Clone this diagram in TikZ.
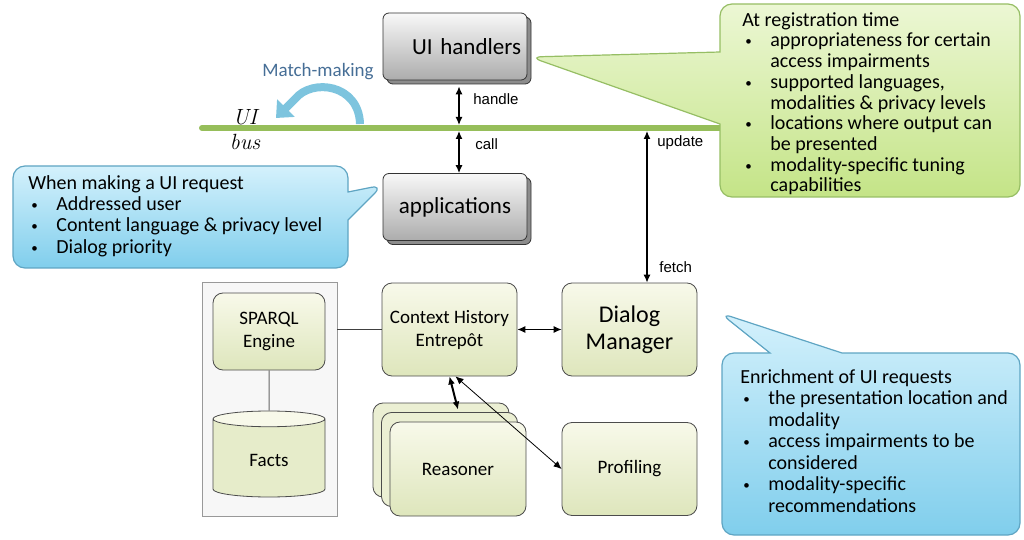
\documentclass[tikz,border=0pt]{standalone}
\usepackage{fontspec}
\newfontfamily\calfont{Carlito}
\newfontfamily\arialfont{Liberation Sans}
\usetikzlibrary{shapes.callouts,shapes.geometric,shadows,arrows.meta}

\definecolor{busgreen}{RGB}{150,190,90}
\definecolor{regtop}{RGB}{236,247,212}
\definecolor{regbot}{RGB}{196,228,135}
\definecolor{regline}{RGB}{150,190,100}
\definecolor{reqtop}{RGB}{212,241,252}
\definecolor{reqbot}{RGB}{128,206,236}
\definecolor{reqline}{RGB}{95,165,195}
\definecolor{unittop}{RGB}{248,248,248}
\definecolor{unitbot}{RGB}{172,172,172}
\definecolor{comptop}{RGB}{248,249,234}
\definecolor{compbot}{RGB}{222,230,188}
\definecolor{matchblue}{RGB}{70,110,150}
\definecolor{matchfill}{RGB}{125,196,222}

\newcommand{\bul}{\makebox[14pt][l]{\hspace{1.5pt}\raisebox{0.5pt}{\fontsize{6.5}{6.5}\selectfont\textbullet}}}
\newcommand{\ind}{\hspace*{14pt}}

\begin{document}
\begin{tikzpicture}[x=0.5pt, y=-0.5pt, font=\calfont,
  uibox/.style={draw=black!80, rounded corners=3pt, top color=unittop, bottom color=unitbot,
    minimum width=72pt, minimum height=33.5pt, inner xsep=2pt, font=\calfont\fontsize{11.5}{12}\selectfont,
    copy shadow={shadow xshift=2pt, shadow yshift=-2pt, fill=black!45, draw=black!80}},
  cbox/.style={draw=black!70, rounded corners=5pt, top color=comptop, bottom color=compbot,
    minimum width=67.5pt, minimum height=46.5pt, align=center, font=\calfont\fontsize{9.5}{11.5}\selectfont},
  db/.style={cylinder, shape border rotate=90, aspect=0.3, draw=black!70,
    cylinder uses custom fill, cylinder body fill=compbot!70!comptop, cylinder end fill=comptop,
    minimum width=56pt, minimum height=43pt, font=\calfont\fontsize{9.5}{11.5}\selectfont},
  kbox/.style={draw=black!40, fill=black!3, minimum width=67.5pt, minimum height=117pt},
  link/.style={black, line width=0.6pt, {Latex[length=4pt,width=3.5pt]}-{Latex[length=4pt,width=3.5pt]}},
  thinline/.style={black!60, line width=0.5pt},
  lbl/.style={anchor=west, inner sep=0pt, font=\arialfont\fontsize{7.5}{8}\selectfont},
  buslbl/.style={font=\normalfont\itshape\fontsize{11}{11}\selectfont},
  bubble/.style={rectangle callout, rounded corners=6pt, line width=0.6pt},
  calltext/.style={anchor=north west, align=left, inner sep=0pt}]
  \useasboundingbox (0,0) rectangle (1024,540);

  % UI bus
  \coordinate (busW) at (202,128);
  \coordinate (busE) at (722,128);
  \draw[busgreen, line width=3pt, line cap=round] (busW) -- (busE);
  \node[buslbl] (uilbl) at (245,117) {UI};
  \node[buslbl] (buslbl) at (245,142) {bus};
  \node[text=matchblue, font=\calfont\fontsize{9.5}{10}\selectfont] (matchlbl) at (318,72) {Match-making};
  \coordinate (mmstart) at (360,124);
  \coordinate (mmtip) at (276,118);
  \draw[matchfill, line width=4pt, -{Triangle[length=7pt,width=12pt]}]
    (mmstart) .. controls (359,84) and (312,78) .. (295,99) -- (mmtip);

  % UI handlers and applications
  \node[uibox, text width=66pt, align=right] (hdl) at (455,46.5) {UI handlers};
  \node[uibox] (apps) at (455,207) {applications};
  \coordinate (hdlbus) at (459,125);
  \coordinate (appsbus) at (459,131);
  \draw[link] ([xshift=2pt,yshift=-3pt]hdl.south) -- (hdlbus);
  \draw[link] (appsbus) -- ([xshift=2pt]apps.north);
  \node[lbl] (handlelbl) at (473,99) {handle};
  \node[lbl] (calllbl) at (475,144) {call};

  % components
  \node[kbox] (kb) at (269.5,399) {};
  \node[cbox, minimum width=56pt, minimum height=38.5pt] (sparql) at (269,331.5) {SPARQL\\Engine};
  \node[db] (facts) at (269,460) {Facts};
  \draw[thinline] (sparql.south) -- (facts.north);
  \node[cbox] (ctx) at (449.5,329.5) {Context History\\Entrepôt};
  \node[cbox, font=\calfont\fontsize{12}{13.5}\selectfont] (dm) at (629.5,329.5) {Dialog\\Manager};
  \node[cbox, minimum width=68pt, minimum height=47pt,
    double copy shadow={shadow xshift=-4.25pt, shadow yshift=4.75pt, fill=comptop!50!compbot, draw=black!70}]
    (rsn) at (458,469) {Reasoner};
  \node[cbox] (prof) at (629.5,469) {Profiling};

  \draw[thinline, black!75] (kb.east |- ctx.west) -- (ctx.west);
  \draw[link, line width=0.5pt] (ctx) -- (dm);
  \draw[link, line width=1pt] (ctx.south) -- ([yshift=6pt]rsn.north);
  \draw[link, line width=0.4pt] ([xshift=3pt]ctx.south) -- (prof.west);
  \coordinate (dmbus) at (647,131);
  \draw[link] (dmbus) -- ([xshift=8.75pt]dm.north);
  \node[lbl] (updlbl) at (657,143) {update};
  \node[lbl] (fetchlbl) at (659,267) {fetch};

  % callouts
  \node[bubble, draw=reqline, top color=reqtop, bottom color=reqbot, minimum width=167.5pt,
    minimum height=51pt, callout absolute pointer={(383,185)}, callout pointer width=14pt]
    (reqcall) at (180.5,217) {};
  \node[calltext, font=\calfont\fontsize{10}{10.67}\selectfont] (reqtext) at (28,175)
    {When making a UI request\\\bul Addressed user\\\bul Content language \& privacy level\\\bul Dialog priority};

  \node[bubble, draw=regline, top color=regtop, bottom color=regbot, minimum width=150pt,
    minimum height=96.5pt, callout absolute pointer={(530,57)}, callout pointer width=36pt]
    (regcall) at (870,100.5) {};
  \node[calltext, font=\calfont\fontsize{10}{10.35}\selectfont] (regtext) at (742,12)
    {At registration time\\\bul appropriateness for certain\\\ind access impairments\\
     \bul supported languages,\\\ind modalities \& privacy levels\\\bul locations where output can\\
     \ind be presented\\\bul modality-specific tuning\\\ind capabilities};

  \node[bubble, draw=reqline, top color=reqtop, bottom color=reqbot, minimum width=149pt,
    minimum height=91pt, callout absolute pointer={(720,313)}, callout pointer width=36pt]
    (enrcall) at (871,444) {};
  \node[calltext, font=\calfont\fontsize{10}{10.75}\selectfont] (enrtext) at (740,369)
    {Enrichment of UI requests\\\bul the presentation location and\\\ind modality\\
     \bul access impairments to be\\\ind considered\\\bul modality-specific\\\ind recommendations};
\end{tikzpicture}
\end{document}
